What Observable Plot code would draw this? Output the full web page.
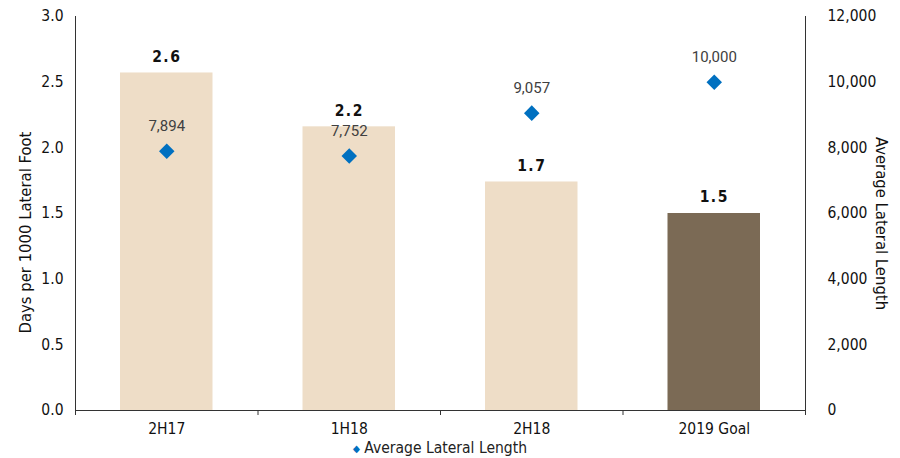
<!DOCTYPE html>
<html><head><meta charset="utf-8">
<script src="https://cdn.jsdelivr.net/npm/d3@7"></script>
<script src="https://cdn.jsdelivr.net/npm/@observablehq/plot@0.6"></script>
<style>
body{margin:0;background:#fff;}
#chart svg{display:block;}
.barlab text{letter-spacing:1.5px;}
#legend{font:15.5px "DejaVu Sans Condensed","DejaVu Sans";color:#222;text-align:center;width:880px;height:20px;line-height:20px;}
#legend .sym{color:#0070C0;font-size:10px;vertical-align:1px;}
</style></head><body>
<div id="chart"></div>
<div id="legend"><span class="sym">◆</span> Average Lateral Length</div>
<script>
const categories = ["2H17", "1H18", "2H18", "2019 Goal"];
const daysPer1000 = [2.57, 2.16, 1.74, 1.5];
const avgLateral = [7894, 7752, 9057, 10000];
const leftTicks = [0, 0.5, 1, 1.5, 2, 2.5, 3];
const rightTicks = [0, 2000, 4000, 6000, 8000, 10000, 12000];
const barColors = ["#EEDDC7", "#EEDDC7", "#EEDDC7", "#7B6A55"];

const factor = d3.max(rightTicks) / d3.max(leftTicks);
const rows = categories.map((c, i) => ({cat: c, i, days: daysPer1000[i], len: avgLateral[i], color: barColors[i]}));
const axisFont = "DejaVu Sans Condensed, DejaVu Sans";

const chart = Plot.plot({
  width: 900, height: 438,
  marginLeft: 75, marginRight: 95, marginTop: 16, marginBottom: 28,
  style: {fontFamily: axisFont, fontSize: "15.5px", color: "#111", background: "#fff"},
  x: {domain: [0, categories.length], label: null},
  y: {domain: [0, d3.max(leftTicks)], label: null},
  color: {type: "identity"},
  marks: [
    Plot.rectY(rows, {x1: d => d.i, x2: d => d.i + 1, y: "days", fill: "color", insetLeft: 45, insetRight: 45}),
    Plot.ruleY([0], {stroke: "#333"}),
    Plot.ruleX([0, categories.length], {stroke: "#333"}),
    Plot.axisX({ticks: d3.range(categories.length + 1), tickSize: 5, tickFormat: () => "", stroke: "#333", label: null}),
    Plot.axisX({ticks: categories.map((c, i) => i + 0.5), tickSize: 0, tickPadding: 12, tickFormat: d => categories[Math.floor(d)], fontSize: 15.5, fill: "#111", label: null}),
    Plot.axisY({anchor: "left", ticks: leftTicks, tickSize: 0, tickPadding: 12, tickFormat: d3.format(".1f"), fontSize: 15.5, fill: "#111", label: null}),
    Plot.axisY({anchor: "right", ticks: rightTicks.map(v => v / factor), tickSize: 0, tickPadding: 22, tickFormat: d => d3.format(",")(Math.round(d * factor)), fontSize: 15.5, fill: "#111", label: null}),
    Plot.text(["Days per 1000 Lateral Foot"], {frameAnchor: "left", textAnchor: "middle", rotate: -90, dx: -50, dy: 19, fontSize: 16.5, fill: "#111"}),
    Plot.text(["Average Lateral Length"], {frameAnchor: "right", textAnchor: "middle", rotate: 90, dx: 76, dy: 10, fontSize: 16.5, fill: "#111"}),
    Plot.text(rows, {x: d => d.i + 0.5, y: "days", text: d => d3.format(".1f")(d.days), dy: -16, fontWeight: "bold", fontSize: 15.5, fill: "#111", className: "barlab"}),
    Plot.dot(rows, {x: d => d.i + 0.5, y: d => d.len / factor, symbol: "diamond2", r: 7, fill: "#0070C0", stroke: "none"}),
    Plot.text(rows, {x: d => d.i + 0.5, y: d => d.len / factor, text: d => d3.format(",")(d.len), dy: -25, fontFamily: "Roboto", fontSize: 15, fill: "#404040"})
  ]
});
document.getElementById("chart").append(chart);
</script>
</body></html>
